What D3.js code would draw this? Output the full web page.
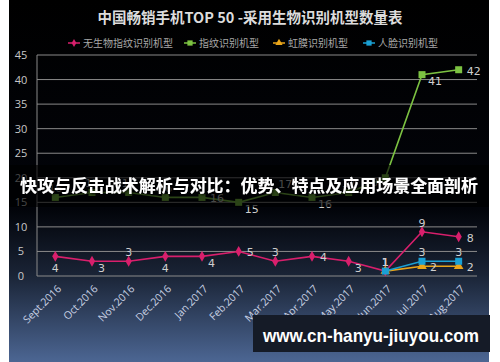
<!DOCTYPE html>
<html><head><meta charset="utf-8">
<script src="https://cdn.jsdelivr.net/npm/d3@7"></script>
<style>
html,body{margin:0;padding:0;background:#fff;}
svg{display:block;}
</style></head>
<body>
<svg id="chart" width="500" height="362"></svg>
<script>
const months = ["Sept.2016","Oct.2016","Nov.2016","Dec.2016","Jan.2017","Feb.2017","Mar.2017","Apr.2017","May.2017","Jun.2017","Jul.2017","Aug.2017"];
const noBiometric = [4,3,3,4,4,5,3,4,3,1,9,8];
const fingerprint = [16,17,17,16,16,15,17,16,17,20,41,42];
const iris = [null,null,null,null,null,null,null,null,null,1,2,2];
const face = [null,null,null,null,null,null,null,null,null,1,3,3];
const yTicks = [0,5,10,15,20,25,30,35,40,45];
const seriesNames = ["无生物指纹识别机型","指纹识别机型","虹膜识别机型","人脸识别机型"];
const chartTitle = "中国畅销手机TOP 50 -采用生物识别机型数量表";
const overlayTitle = "快攻与反击战术解析与对比：优势、特点及应用场景全面剖析";
const watermark = "www.cn-hanyu-jiuyou.com";

// label placements (style only)
const placeNo = ["b","rb","a","b","rb","r","a","r","rb","a","a","r"];
const placeFp = ["a","a","a","a","r","rb","ar","rb","a","l","rb","r"];
const placeIris = [null,null,null,null,null,null,null,null,null,"a","r","r"];
const placeFace = [null,null,null,null,null,null,null,null,null,"a","a","a"];

const svg = d3.select("#chart");
const defs = svg.append("defs");
const grad = defs.append("linearGradient").attr("id","bg").attr("x1",0).attr("y1",0).attr("x2",0).attr("y2",1);
grad.append("stop").attr("offset","0%").attr("stop-color","#000");
grad.append("stop").attr("offset","58%").attr("stop-color","#02040a");
grad.append("stop").attr("offset","76%").attr("stop-color","#1a2436");
grad.append("stop").attr("offset","100%").attr("stop-color","#4c6693");
const sh = defs.append("filter").attr("id","sh").attr("x","-5%").attr("y","-30%").attr("width","110%").attr("height","160%");
sh.append("feDropShadow").attr("dx",1).attr("dy",1).attr("stdDeviation",1).attr("flood-color","#000").attr("flood-opacity",0.9);

svg.append("rect").attr("x",9).attr("y",0).attr("width",480).attr("height",362).attr("fill","url(#bg)");

const x = d3.scaleBand().domain(months).range([37,477]).padding(0);
const y = d3.scaleLinear().domain([0,45]).range([276,55]);
const cx = d => x(d) + x.bandwidth()/2;

// gridlines
svg.append("g").selectAll("line").data(yTicks).join("line")
  .attr("x1",37).attr("x2",477).attr("y1",d=>y(d)).attr("y2",d=>y(d))
  .attr("stroke","#8a8a8a").attr("stroke-width",1);
svg.append("line").attr("x1",37).attr("x2",37).attr("y1",y(45)).attr("y2",y(0)).attr("stroke","#8a8a8a");

// y axis labels
const yAxis = d3.axisLeft(y).tickValues(yTicks).tickSize(0).tickPadding(10);
const yg = svg.append("g").attr("transform","translate(37,0)").call(yAxis);
yg.select(".domain").remove();
yg.selectAll("text").attr("fill","#c8c8c8").attr("font-family","'Open Sans',sans-serif").attr("font-size",11).attr("text-anchor","middle").attr("x",-16);

// x axis labels
svg.append("g").selectAll("text").data(months).join("text")
  .attr("transform",d=>`translate(${cx(d)+4},${287}) rotate(-45)`)
  .attr("text-anchor","end").attr("dy","0.35em")
  .attr("font-family","'Open Sans',sans-serif").attr("font-size",10.5).attr("fill","#c9d2e4")
  .text(d=>d);

// titles
svg.append("text").attr("x",250).attr("y",23).attr("text-anchor","middle")
  .attr("font-family","'Noto Sans CJK SC',sans-serif").attr("font-weight","bold").attr("font-size",14.5)
  .attr("fill","#dcdcdc").text(chartTitle);

// legend
const colors = ["#d81f6c","#7cc242","#eaa51a","#1aa0d4"];
const legX = [68,184,273,363];
const lg = svg.append("g");
seriesNames.forEach((n,i)=>{
  const g = lg.append("g").attr("transform",`translate(${legX[i]},43)`);
  g.append("line").attr("x1",0).attr("x2",12).attr("stroke",colors[i]).attr("stroke-width",1.5);
  drawMarker(g, i, 6, 0, 0.75);
  g.append("text").attr("x",15).attr("y",0).attr("dy","0.35em")
   .attr("font-family","'Noto Sans CJK SC',sans-serif").attr("font-size",10).attr("fill","#a8a8a8").text(n);
});

function drawMarker(g, i, mx, my, s){
  s = s||1;
  if(i===0){
    g.append("path").attr("d",d3.symbol(d3.symbolDiamond, 34*s*s)()).attr("transform",`translate(${mx},${my})`).attr("fill",colors[i]);
  } else if(i===2){
    g.append("path").attr("d",d3.symbol(d3.symbolTriangle, 40*s*s)()).attr("transform",`translate(${mx},${my})`).attr("fill",colors[i]);
  } else {
    const sz = 7*s;
    g.append("rect").attr("x",mx-sz/2).attr("y",my-sz/2).attr("width",sz).attr("height",sz).attr("fill",colors[i]);
  }
}

const allSeries = [noBiometric, fingerprint, iris, face];
const allPlace = [placeNo, placeFp, placeIris, placeFace];
const plot = svg.append("g");
const drawOrder = [1,0,2,3];
drawOrder.forEach(i=>{
  const vals = allSeries[i];
  const pts = months.map((m,k)=>({m,v:vals[k],k})).filter(p=>p.v!==null);
  const line = d3.line().x(p=>cx(p.m)).y(p=>y(p.v));
  plot.append("path").datum(pts).attr("d",line).attr("fill","none").attr("stroke",colors[i]).attr("stroke-width",1.6);
  pts.forEach(p=>drawMarker(plot,i,cx(p.m),y(p.v),1));
});
// data labels
const lab = svg.append("g").attr("font-family","'DejaVu Sans',sans-serif").attr("font-size",11).attr("fill","#cfcfcf");
[0,1,2,3].forEach(i=>{
  const vals = allSeries[i], pl = allPlace[i];
  vals.forEach((v,k)=>{
    if(v===null) return;
    const px = cx(months[k]), py = y(v);
    let dx=0, dy=0, anchor="middle";
    switch(pl[k]){
      case "a": dy=-9; break;
      case "b": dy=12; break;
      case "r": dx=8; dy=1; anchor="start"; break;
      case "l": dx=-7; dy=4; anchor="end"; break;
      case "rb": dx=6; dy=7; anchor="start"; break;
      case "ar": dx=3; dy=-8; anchor="start"; break;
    }
    lab.append("text").attr("x",px+dx).attr("y",py+dy).attr("dy","0.35em").attr("text-anchor",anchor).text(v);
  });
});

// overlay band + title
svg.append("rect").attr("x",9).attr("y",165).attr("width",480).attr("height",42).attr("fill","#000").attr("opacity",0.65);
svg.append("text").attr("x",20).attr("y",192)
  .attr("font-family","'Noto Sans CJK SC',sans-serif").attr("font-weight","bold").attr("font-size",17)
  .attr("textLength",458).attr("lengthAdjust","spacingAndGlyphs")
  .attr("fill","#fff").attr("filter","url(#sh)").text(overlayTitle);

// watermark
svg.append("rect").attr("x",253).attr("y",315).attr("width",237).attr("height",37).attr("fill","#151b27");
svg.append("text").attr("x",263).attr("y",342)
  .attr("font-family","'Liberation Sans',Arial,sans-serif").attr("font-weight","bold").attr("font-size",19)
  .attr("textLength",216).attr("lengthAdjust","spacingAndGlyphs")
  .attr("fill","#fff").text(watermark);
</script>
</body></html>
